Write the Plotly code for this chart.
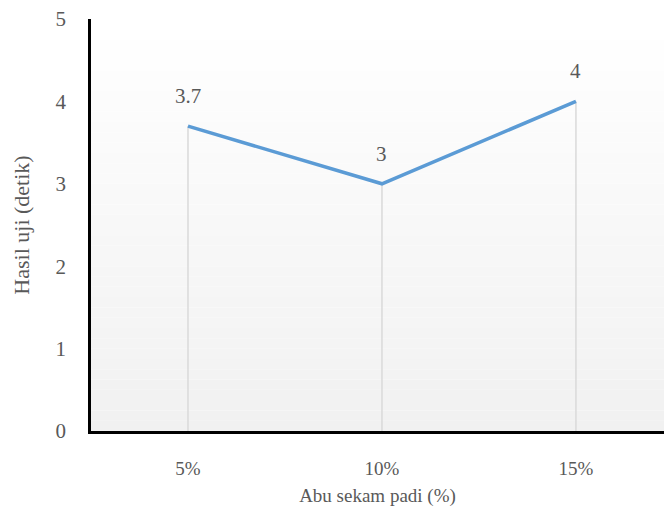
import plotly.graph_objects as go

# Data
categories = ["5%", "10%", "15%"]
values = [3.7, 3.0, 4.0]
value_labels = ["3.7", "3", "4"]
y_ticks = [0, 1, 2, 3, 4, 5]

FONT = "Times New Roman, Liberation Serif, serif"
TEXT_COLOR = "#595959"

fig = go.Figure()

# Vertical drop lines from each point down to the x axis
drop_x, drop_y = [], []
for c, v in zip(categories, values):
    drop_x += [c, c, None]
    drop_y += [0, v, None]
fig.add_trace(go.Scatter(
    x=drop_x, y=drop_y, mode="lines",
    line=dict(color="#d9d9d9", width=1.5),
    hoverinfo="skip", showlegend=False,
))

# Main series
fig.add_trace(go.Scatter(
    x=categories, y=values, mode="lines",
    line=dict(color="#5B9BD5", width=3.5),
    showlegend=False,
))

# Value labels above each point
annotations = [
    dict(x=c, y=v, text=t, showarrow=False, xref="x", yref="y",
         yshift=30, font=dict(family=FONT, size=21, color=TEXT_COLOR))
    for c, v, t in zip(categories, values, value_labels)
]

# Soft vertical gradient in the plot area (white at top, light gray at bottom)
n_bands = 40
shapes = []
for i in range(n_bands):
    t = i / (n_bands - 1)
    g = round(255 - (255 - 241) * (1 - t))
    shapes.append(dict(
        type="rect", xref="x domain", yref="y domain",
        x0=0, x1=1, y0=i / n_bands, y1=(i + 1) / n_bands,
        fillcolor=f"rgb({g},{g},{g})", line=dict(width=0), layer="below",
    ))

fig.update_layout(
    width=664, height=511,
    margin=dict(l=91, r=0, t=19, b=80),
    paper_bgcolor="white", plot_bgcolor="white",
    shapes=shapes, annotations=annotations,
    font=dict(family=FONT, color=TEXT_COLOR),
)

fig.update_xaxes(
    type="category", range=[-0.5, 2.454],
    showgrid=False, zeroline=False,
    showline=True, linecolor="black", linewidth=2.5,
    ticks="", tickfont=dict(family=FONT, size=19, color=TEXT_COLOR),
    ticklabelstandoff=18,
    title=dict(text="Abu sekam padi (%)", font=dict(family=FONT, size=19, color=TEXT_COLOR), standoff=12),
)
fig.update_yaxes(
    range=[0, 5], tickvals=y_ticks,
    showgrid=False, zeroline=False,
    showline=True, linecolor="black", linewidth=2.5,
    ticks="", tickfont=dict(family=FONT, size=21, color=TEXT_COLOR),
    ticklabelstandoff=18,
    title=dict(text="Hasil uji (detik)", font=dict(family=FONT, size=22, color=TEXT_COLOR), standoff=20),
)

fig.write_html("out.html")
